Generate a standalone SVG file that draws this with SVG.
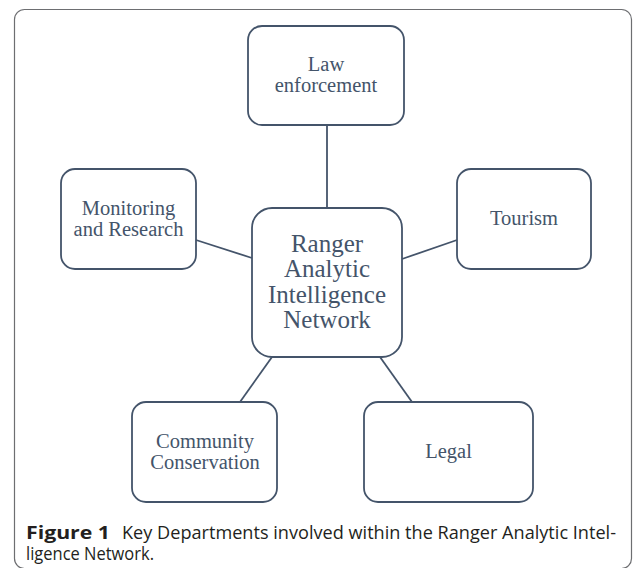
<svg xmlns="http://www.w3.org/2000/svg" width="635" height="568" viewBox="0 0 635 568">
<style>
.box{fill:#ffffff;stroke:#44546a;stroke-width:1.8}
.lbl{font-family:"Liberation Serif","Times New Roman",serif;fill:#44546a;text-anchor:middle}
.cap{font-family:"Open Sans","Noto Sans",sans-serif;font-size:17.5px;fill:#231f20}
.conn line{stroke:#44546a;stroke-width:1.8}
</style>
<rect width="635" height="568" fill="#ffffff"/>
<rect x="14.5" y="9.5" width="617" height="559" rx="10" fill="none" stroke="#6d6e71" stroke-width="1.2"/>
<g id="connectors" class="conn">
<line x1="327" y1="125" x2="327" y2="208"/>
<line x1="196" y1="240" x2="252" y2="258"/>
<line x1="402" y1="259" x2="457" y2="240"/>
<line x1="272" y1="357" x2="240" y2="402"/>
<line x1="380" y1="357" x2="412" y2="402"/>
</g>
<g id="law">
<rect class="box" x="248" y="26" width="156" height="99" rx="14"/>
<text class="lbl" font-size="20.5"><tspan x="326" y="71">Law</tspan><tspan x="326" y="92">enforcement</tspan></text>
</g>
<g id="monitoring">
<rect class="box" x="61" y="169" width="135" height="100" rx="14"/>
<text class="lbl" font-size="20.5"><tspan x="128.5" y="215">Monitoring</tspan><tspan x="128.5" y="236">and Research</tspan></text>
</g>
<g id="tourism">
<rect class="box" x="457" y="169" width="134" height="100" rx="14"/>
<text class="lbl" font-size="20.5" x="524" y="225">Tourism</text>
</g>
<g id="center">
<rect class="box" x="252" y="208" width="150" height="149" rx="20"/>
<text class="lbl" font-size="25"><tspan x="327" y="252">Ranger</tspan><tspan x="327" y="277">Analytic</tspan><tspan x="327" y="303">Intelligence</tspan><tspan x="327" y="328">Network</tspan></text>
</g>
<g id="community">
<rect class="box" x="132" y="402" width="145" height="100" rx="14"/>
<text class="lbl" font-size="20.5"><tspan x="205" y="448">Community</tspan><tspan x="205" y="469">Conservation</tspan></text>
</g>
<g id="legal">
<rect class="box" x="364" y="402" width="169" height="100" rx="14"/>
<text class="lbl" font-size="20.5" x="448.5" y="458">Legal</text>
</g>
<g id="caption">
<text class="cap" x="26" y="539" font-weight="bold" textLength="84" lengthAdjust="spacingAndGlyphs">Figure 1</text>
<text class="cap" x="122" y="539" textLength="494" lengthAdjust="spacingAndGlyphs">Key Departments involved within the Ranger Analytic Intel-</text>
<text class="cap" x="26" y="560" textLength="128" lengthAdjust="spacingAndGlyphs">ligence Network.</text>
</g>
</svg>
